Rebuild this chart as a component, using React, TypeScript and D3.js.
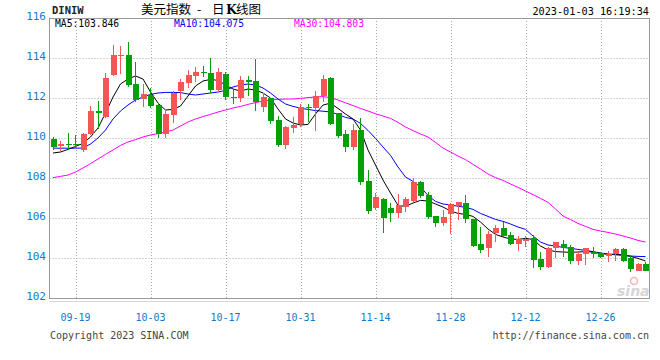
import React from "react";
import * as d3 from "d3";

// ---- data ----
const openV = [109.95,109.58,109.72,109.70,109.40,110.18,111.33,111.07,113.15,114.12,114.15,112.69,111.95,112.15,111.65,110.18,111.15,112.33,112.77,113.12,113.28,113.27,112.40,113.20,112.07,111.98,112.90,112.85,111.57,111.98,110.90,109.65,110.52,110.68,111.53,111.52,112.10,113.02,111.23,110.20,109.57,110.40,107.85,106.48,106.95,106.48,106.23,106.56,106.85,107.82,107.15,106.10,105.77,106.18,106.60,106.77,105.93,104.70,104.48,105.23,105.48,105.15,104.70,104.87,105.00,103.93,103.53,104.52,104.68,104.57,103.87,104.18,104.32,104.23,104.12,104.18,104.45,103.98,103.37,103.70];
const highV = [110.07,109.85,110.23,110.13,110.27,111.60,111.85,113.23,114.65,114.60,114.78,113.82,112.69,112.48,111.73,111.40,112.33,112.93,113.40,113.53,113.62,113.98,113.48,113.32,112.43,113.10,113.10,113.95,112.23,112.00,111.12,110.60,111.07,111.68,111.68,112.35,113.15,113.07,111.25,110.40,110.68,111.00,108.40,107.23,106.98,106.73,107.18,107.07,107.98,107.85,107.32,106.10,106.40,106.77,106.82,107.15,105.93,105.57,105.35,105.65,105.78,105.32,105.10,105.10,105.15,104.28,104.57,104.82,104.90,104.65,104.28,104.52,104.53,104.32,104.35,104.48,104.52,104.15,103.73,103.82];
const lowV = [109.40,109.37,109.40,109.48,109.32,110.15,110.43,111.02,113.12,113.20,112.57,111.82,111.57,111.52,110.02,110.02,110.73,111.90,112.52,112.82,113.03,112.23,112.32,111.90,111.70,111.82,112.12,111.35,111.32,110.70,109.53,109.45,110.23,110.57,110.78,110.35,111.78,110.65,110.02,109.32,109.40,107.65,106.20,106.40,105.23,105.78,106.02,106.32,106.82,107.00,105.93,105.57,105.60,105.20,105.90,105.77,104.53,104.23,104.03,104.82,104.98,104.65,104.37,104.57,103.48,103.40,103.48,103.98,104.07,103.68,103.65,103.65,104.02,103.98,103.82,103.85,103.82,103.28,103.35,103.35];
const closeV = [109.57,109.70,109.63,109.66,110.20,111.35,111.27,113.02,114.15,114.15,112.65,111.90,112.19,111.60,110.18,111.20,112.23,112.82,113.15,113.28,113.25,112.40,113.28,112.07,111.98,112.90,112.82,111.82,112.07,110.87,109.65,110.53,110.65,111.57,111.50,112.10,112.95,110.70,110.12,109.57,110.40,107.82,106.37,107.03,105.98,106.23,106.65,106.95,107.82,107.10,106.07,105.77,106.07,106.68,106.78,105.93,104.60,104.40,105.20,105.52,105.12,104.70,104.93,104.95,103.90,103.53,104.48,104.78,104.52,103.87,104.20,104.48,104.20,104.07,104.18,104.45,103.87,103.43,103.70,103.37];

const ma5 = [109.25,109.30,109.43,109.58,109.73,110.05,110.50,111.25,112.05,112.70,112.95,113.10,112.95,112.30,111.75,111.40,111.43,111.60,112.10,112.60,112.85,112.93,112.88,112.65,112.45,112.35,112.45,112.40,112.25,112.00,111.45,110.95,110.75,110.65,110.68,111.20,111.65,111.74,111.48,111.20,110.95,110.40,109.40,108.65,107.90,107.25,106.63,106.58,106.75,106.88,106.85,106.70,106.55,106.35,106.23,106.18,106.08,105.80,105.45,105.18,105.05,104.95,104.93,104.98,104.93,104.60,104.40,104.32,104.30,104.28,104.30,104.32,104.30,104.23,104.18,104.19,104.15,104.08,103.98,103.85];
const ma10 = [109.49,109.49,109.49,109.49,109.50,109.70,110.00,110.40,110.95,111.35,111.65,111.90,112.05,112.18,112.25,112.28,112.28,112.27,112.20,112.15,112.20,112.25,112.30,112.38,112.55,112.65,112.70,112.65,112.50,112.25,111.95,111.70,111.58,111.49,111.43,111.37,111.34,111.30,111.18,111.03,110.95,110.73,110.38,109.98,109.55,109.13,108.55,108.05,107.83,107.55,107.13,106.83,106.70,106.65,106.59,106.53,106.43,106.23,106.08,105.93,105.83,105.70,105.55,105.43,105.10,104.80,104.65,104.60,104.53,104.48,104.43,104.38,104.32,104.25,104.20,104.16,104.13,104.10,104.08,104.07];
const ma30 = [108.02,108.08,108.15,108.30,108.50,108.72,108.95,109.18,109.40,109.63,109.80,109.92,110.05,110.15,110.22,110.30,110.40,110.60,110.80,110.95,111.07,111.18,111.30,111.40,111.50,111.58,111.68,111.77,111.84,111.90,111.93,111.95,111.95,111.98,112.02,112.05,112.07,112.02,111.90,111.76,111.62,111.48,111.35,111.21,111.10,110.98,110.78,110.55,110.37,110.20,110.05,109.78,109.50,109.30,109.10,108.92,108.68,108.45,108.20,108.02,107.88,107.70,107.53,107.35,107.17,106.98,106.78,106.45,106.10,105.92,105.73,105.58,105.43,105.35,105.28,105.20,105.10,105.00,104.88,104.80];

const yTicks = [116, 114, 112, 110, 108, 106, 104, 102];
const dateLabels = ["09-19", "10-03", "10-17", "10-31", "11-14", "11-28", "12-12", "12-26"];
const dateIndex = [3, 13, 23, 33, 43, 53, 63, 73];

const maLabels = ["MA5:103.846", "MA10:104.075", "MA30:104.803"];

const RED = "#f65555";
const GREEN = "#05a005";
const BLUE_TXT = "#1179cc";
const MONO = "'DejaVu Sans Mono', 'Liberation Mono', monospace";

export default function App() {
  const W = 660, H = 360;
  const left = 49.25, right = 649.25, top = 18, bottom = 298;
  const idx = d3.range(closeV.length);
  const x = d3.scaleBand<number>().domain(idx).range([left, right]).padding(0);
  const cx = (i: number) => (x(i) as number) + x.bandwidth() / 2;
  const y = d3.scaleLinear().domain([102, 116]).range([bottom, top]);

  const line = (arr: number[]) =>
    d3.line<number>().x((_, i) => cx(i)).y((d) => y(d))(arr) || "";

  const plotL = 49.5, plotR = 649.5;
  const bodyW = 6;

  return (
    <svg width={W} height={H} style={{ position: "absolute", left: 0, top: 0, background: "#fff" }}>
      <rect x={0} y={0} width={W} height={H} fill="#fff" />
      {/* header */}
      <text x={52} y={14} fontFamily={MONO} fontSize={10.5} fontWeight="bold" fill="#222">DINIW</text>
      <text y={14} fontFamily="'Noto Sans CJK SC', sans-serif" fontSize={12.5} fill="#000">
        <tspan x={141}>美元指数</tspan>
        <tspan x={197}>-</tspan>
        <tspan x={212}>日</tspan>
        <tspan x={226} fontWeight="bold" fontFamily="'DejaVu Serif', serif">K</tspan>
        <tspan x={236}>线图</tspan>
      </text>
      <text x={649} y={15} textAnchor="end" fontFamily={MONO} fontSize={10.2} fill="#000">2023-01-03 16:19:34</text>

      {/* horizontal grid */}
      {yTicks.slice(1, -1).map((t) => (
        <line key={"h" + t} x1={plotL} x2={plotR} y1={Math.round(y(t)) + 0.5} y2={Math.round(y(t)) + 0.5}
          stroke="#aaa" strokeDasharray="1 2" />
      ))}
      {/* vertical grid */}
      {dateIndex.map((di) => (
        <line key={"v" + di} x1={Math.round(cx(di)) + 0.5} x2={Math.round(cx(di)) + 0.5} y1={top} y2={bottom}
          stroke="#aaa" strokeDasharray="1 2" />
      ))}

      {/* MA lines */}
      <path d={line(ma30)} fill="none" stroke="#ff00ff" strokeWidth={1} />
      <path d={line(ma10)} fill="none" stroke="#0000ff" strokeWidth={1} />
      <path d={line(ma5)} fill="none" stroke="#000" strokeWidth={1} />

      {/* candles */}
      {idx.map((i) => {
        const o = openV[i], c = closeV[i], h = highV[i], l = lowV[i];
        const up = c >= o;
        const col = up ? RED : GREEN;
        const xc = Math.floor(cx(i));
        const yTop = Math.round(y(Math.max(o, c)));
        const yBot = Math.round(y(Math.min(o, c)));
        return (
          <g key={"c" + i}>
            <line x1={xc + 0.5} x2={xc + 0.5} y1={Math.round(y(h))} y2={Math.round(y(l))} stroke={col} strokeWidth={1} />
            <rect x={xc - 2} y={yTop} width={bodyW} height={Math.max(1, yBot - yTop)} fill={col} />
          </g>
        );
      })}

      {/* MA labels */}
      <text x={55} y={27} fontFamily={MONO} fontSize={9.7} fill="#000">{maLabels[0]}</text>
      <text x={174} y={27} fontFamily={MONO} fontSize={9.7} fill="#0000ff">{maLabels[1]}</text>
      <text x={294} y={27} fontFamily={MONO} fontSize={9.7} fill="#ff00ff">{maLabels[2]}</text>

      {/* border */}
      <rect x={plotL} y={top + 0.5} width={plotR - plotL} height={bottom - top} fill="none" stroke="#999" strokeWidth={1} />
      <line x1={plotL} x2={plotR} y1={301.5} y2={301.5} stroke="#aaa" strokeDasharray="1 1" />

      {/* y labels */}
      {yTicks.map((t) => (
        <text key={"yl" + t} x={46} y={y(t) + 2} textAnchor="end" fontFamily={MONO} fontSize={11} fill={BLUE_TXT}>{t}</text>
      ))}
      {/* x labels */}
      {dateLabels.map((lab, k) => (
        <text key={"xl" + lab} x={cx(dateIndex[k])} y={321} textAnchor="middle" fontFamily={MONO} fontSize={10} fill={BLUE_TXT}>{lab}</text>
      ))}

      {/* watermark */}
      <circle cx={634} cy={281} r={3.5} fill="none" stroke="#f3b4b4" strokeWidth={1.5} />
      <text x={617} y={296} fontFamily="'DejaVu Sans', sans-serif" fontStyle="italic" fontWeight="bold" fontSize={14} fill="#d6d6d6">sina</text>

      {/* footer */}
      <text x={50} y={339} fontFamily={MONO} fontSize={10} fill="#444">Copyright 2023 SINA.COM</text>
      <text x={649} y={339} textAnchor="end" fontFamily={MONO} fontSize={10} fill="#444">http://finance.sina.com.cn</text>
    </svg>
  );
}
